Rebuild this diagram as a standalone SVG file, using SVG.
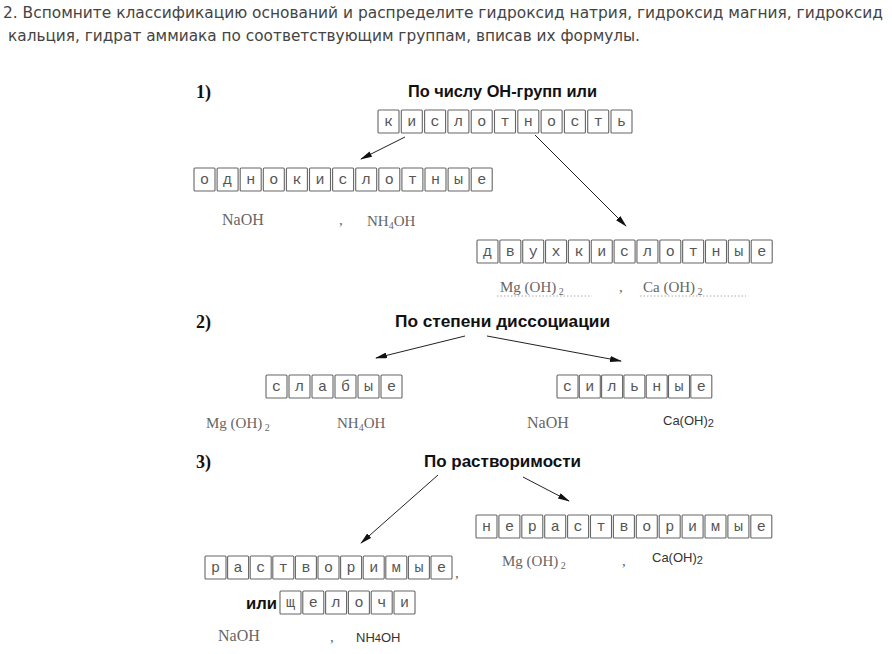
<svg xmlns="http://www.w3.org/2000/svg" width="892" height="654" viewBox="0 0 892 654">
<defs>
<style>
.hd{font-family:"DejaVu Sans","Noto Sans",sans-serif;font-size:15px;fill:#444}
.num{font-family:"Liberation Serif",serif;font-weight:bold;font-size:18px;fill:#111}
.ttl{font-family:"Liberation Sans",sans-serif;font-weight:bold;font-size:16px;fill:#111}
.b{fill:#fff;stroke:#666;stroke-width:1.1}
.l{font-family:"Liberation Mono",monospace;font-size:15px;fill:#555;text-anchor:middle}
.f{font-family:"Liberation Serif",serif;font-size:15px;fill:#666}
.fn{font-family:"Liberation Serif",serif;font-size:16px;fill:#666}
.fs{font-family:"Liberation Sans",sans-serif;font-size:13px;fill:#333}
.c{stroke:#222;stroke-width:1;fill:none}
.dot{stroke:#aaa;stroke-width:1;stroke-dasharray:1.5 2;fill:none}
</style>
<marker id="ah" viewBox="0 0 12 6" refX="11" refY="3" markerWidth="12" markerHeight="6" markerUnits="userSpaceOnUse" orient="auto">
<path d="M0,0 L12,3 L0,6 Z" fill="#111"/>
</marker>
<g id="box"><rect class="b" x="0" y="0" width="21" height="23" rx="1"/></g>
</defs>
<rect width="892" height="654" fill="#fff"/>

<g id="header">
<text class="hd" x="3" y="18" textLength="880" lengthAdjust="spacingAndGlyphs">2. Вспомните классификацию оснований и распределите гидроксид натрия, гидроксид магния, гидроксид</text>
<text class="hd" x="8" y="41" textLength="632" lengthAdjust="spacingAndGlyphs">кальция, гидрат аммиака по соответствующим группам, вписав их формулы.</text>
</g>

<g id="sec1">
<text class="num" x="196" y="98">1)</text>
<text class="ttl" x="408" y="97" textLength="189" lengthAdjust="spacingAndGlyphs">По числу ОН-групп или</text>
</g>

<g id="kislotnost">
<g transform="translate(378,110)">
<use href="#box" x="0"/><text class="l" x="10.5" y="16">к</text>
<use href="#box" x="23.3"/><text class="l" x="33.8" y="16">и</text>
<use href="#box" x="46.6"/><text class="l" x="57.1" y="16">с</text>
<use href="#box" x="69.9"/><text class="l" x="80.4" y="16">л</text>
<use href="#box" x="93.2"/><text class="l" x="103.7" y="16">о</text>
<use href="#box" x="116.5"/><text class="l" x="127" y="16">т</text>
<use href="#box" x="139.8"/><text class="l" x="150.3" y="16">н</text>
<use href="#box" x="163.1"/><text class="l" x="173.6" y="16">о</text>
<use href="#box" x="186.4"/><text class="l" x="196.9" y="16">с</text>
<use href="#box" x="209.7"/><text class="l" x="220.2" y="16">т</text>
<use href="#box" x="233"/><text class="l" x="243.5" y="16">ь</text>
</g>
</g>

<g id="odnokislotnye">
<g transform="translate(194,168)">
<use href="#box" x="0"/><text class="l" x="10.5" y="16">о</text>
<use href="#box" x="23.1"/><text class="l" x="33.6" y="16">д</text>
<use href="#box" x="46.2"/><text class="l" x="56.7" y="16">н</text>
<use href="#box" x="69.3"/><text class="l" x="79.8" y="16">о</text>
<use href="#box" x="92.4"/><text class="l" x="102.9" y="16">к</text>
<use href="#box" x="115.5"/><text class="l" x="126" y="16">и</text>
<use href="#box" x="138.6"/><text class="l" x="149.1" y="16">с</text>
<use href="#box" x="161.7"/><text class="l" x="172.2" y="16">л</text>
<use href="#box" x="184.8"/><text class="l" x="195.3" y="16">о</text>
<use href="#box" x="207.9"/><text class="l" x="218.4" y="16">т</text>
<use href="#box" x="231"/><text class="l" x="241.5" y="16">н</text>
<use href="#box" x="254.1"/><text class="l" x="264.6" y="16">ы</text>
<use href="#box" x="277.2"/><text class="l" x="287.7" y="16">е</text>
</g>
<text class="fn" x="222" y="225">NaOH</text>
<text class="f" x="339" y="225">,</text>
<text class="f" x="367" y="226">NH<tspan font-size="10" dy="3">4</tspan><tspan dy="-3">OH</tspan></text>
</g>

<g id="dvukhkislotnye">
<g transform="translate(477,240)">
<use href="#box" x="0"/><text class="l" x="10.5" y="16">д</text>
<use href="#box" x="22.85"/><text class="l" x="33.35" y="16">в</text>
<use href="#box" x="45.7"/><text class="l" x="56.2" y="16">у</text>
<use href="#box" x="68.55"/><text class="l" x="79.05" y="16">х</text>
<use href="#box" x="91.4"/><text class="l" x="101.9" y="16">к</text>
<use href="#box" x="114.25"/><text class="l" x="124.75" y="16">и</text>
<use href="#box" x="137.1"/><text class="l" x="147.6" y="16">с</text>
<use href="#box" x="159.95"/><text class="l" x="170.45" y="16">л</text>
<use href="#box" x="182.8"/><text class="l" x="193.3" y="16">о</text>
<use href="#box" x="205.65"/><text class="l" x="216.15" y="16">т</text>
<use href="#box" x="228.5"/><text class="l" x="239" y="16">н</text>
<use href="#box" x="251.35"/><text class="l" x="261.85" y="16">ы</text>
<use href="#box" x="274.2"/><text class="l" x="284.7" y="16">е</text>
</g>
<text class="f" x="500" y="292">Mg (OH)<tspan font-size="10" dy="3"> 2</tspan></text>
<text class="f" x="619" y="292">,</text>
<text class="f" x="643" y="292">Ca (OH)<tspan font-size="10" dy="3"> 2</tspan></text>
<line class="dot" x1="497" y1="296" x2="592" y2="296"/>
<line class="dot" x1="640" y1="296" x2="746" y2="296"/>
</g>

<g id="sec2">
<text class="num" x="196" y="328">2)</text>
<text class="ttl" x="395" y="327" textLength="215" lengthAdjust="spacingAndGlyphs">По степени диссоциации</text>
</g>

<g id="slabye">
<g transform="translate(266,375)">
<use href="#box" x="0"/><text class="l" x="10.5" y="16">с</text>
<use href="#box" x="23"/><text class="l" x="33.5" y="16">л</text>
<use href="#box" x="46"/><text class="l" x="56.5" y="16">а</text>
<use href="#box" x="69"/><text class="l" x="79.5" y="16">б</text>
<use href="#box" x="92"/><text class="l" x="102.5" y="16">ы</text>
<use href="#box" x="115"/><text class="l" x="125.5" y="16">е</text>
</g>
<text class="f" x="206" y="428">Mg (OH)<tspan font-size="10" dy="3"> 2</tspan></text>
<text class="f" x="337" y="428">NH<tspan font-size="10" dy="3">4</tspan><tspan dy="-3">OH</tspan></text>
</g>

<g id="silnye">
<g transform="translate(557,375)">
<use href="#box" x="0"/><text class="l" x="10.5" y="16">с</text>
<use href="#box" x="22.3"/><text class="l" x="32.8" y="16">и</text>
<use href="#box" x="44.6"/><text class="l" x="55.1" y="16">л</text>
<use href="#box" x="66.9"/><text class="l" x="77.4" y="16">ь</text>
<use href="#box" x="89.2"/><text class="l" x="99.7" y="16">н</text>
<use href="#box" x="111.5"/><text class="l" x="122" y="16">ы</text>
<use href="#box" x="133.8"/><text class="l" x="144.3" y="16">е</text>
</g>
<text class="fn" x="527" y="428">NaOH</text>
<text class="fs" x="663" y="425">Ca(OH)<tspan font-size="11" dy="2">2</tspan></text>
</g>

<g id="sec3">
<text class="num" x="196" y="468">3)</text>
<text class="ttl" x="424" y="467" textLength="157" lengthAdjust="spacingAndGlyphs">По растворимости</text>
</g>

<g id="nerastvorimye">
<g transform="translate(476,515)">
<use href="#box" x="0"/><text class="l" x="10.5" y="16">н</text>
<use href="#box" x="22.9"/><text class="l" x="33.4" y="16">е</text>
<use href="#box" x="45.8"/><text class="l" x="56.3" y="16">р</text>
<use href="#box" x="68.7"/><text class="l" x="79.2" y="16">а</text>
<use href="#box" x="91.6"/><text class="l" x="102.1" y="16">с</text>
<use href="#box" x="114.5"/><text class="l" x="125" y="16">т</text>
<use href="#box" x="137.4"/><text class="l" x="147.9" y="16">в</text>
<use href="#box" x="160.3"/><text class="l" x="170.8" y="16">о</text>
<use href="#box" x="183.2"/><text class="l" x="193.7" y="16">р</text>
<use href="#box" x="206.1"/><text class="l" x="216.6" y="16">и</text>
<use href="#box" x="229"/><text class="l" x="239.5" y="16">м</text>
<use href="#box" x="251.9"/><text class="l" x="262.4" y="16">ы</text>
<use href="#box" x="274.8"/><text class="l" x="285.3" y="16">е</text>
</g>
<text class="f" x="502" y="566">Mg (OH)<tspan font-size="10" dy="3"> 2</tspan></text>
<text class="f" x="622" y="566">,</text>
<text class="fs" x="652" y="562">Ca(OH)<tspan font-size="11" dy="2">2</tspan></text>
</g>

<g id="rastvorimye">
<g transform="translate(205,556)">
<use href="#box" x="0"/><text class="l" x="10.5" y="16">р</text>
<use href="#box" x="22.6"/><text class="l" x="33.1" y="16">а</text>
<use href="#box" x="45.2"/><text class="l" x="55.7" y="16">с</text>
<use href="#box" x="67.8"/><text class="l" x="78.3" y="16">т</text>
<use href="#box" x="90.4"/><text class="l" x="100.9" y="16">в</text>
<use href="#box" x="113"/><text class="l" x="123.5" y="16">о</text>
<use href="#box" x="135.6"/><text class="l" x="146.1" y="16">р</text>
<use href="#box" x="158.2"/><text class="l" x="168.7" y="16">и</text>
<use href="#box" x="180.8"/><text class="l" x="191.3" y="16">м</text>
<use href="#box" x="203.4"/><text class="l" x="213.9" y="16">ы</text>
<use href="#box" x="226"/><text class="l" x="236.5" y="16">е</text>
</g>
<text class="f" x="455" y="578">,</text>
</g>

<g id="shchelochi">
<text class="ttl" x="246" y="609" font-size="13" textLength="31" lengthAdjust="spacingAndGlyphs">или</text>
<g transform="translate(280,591)">
<use href="#box" x="0"/><text class="l" x="10.5" y="16">щ</text>
<use href="#box" x="22.8"/><text class="l" x="33.3" y="16">е</text>
<use href="#box" x="45.6"/><text class="l" x="56.1" y="16">л</text>
<use href="#box" x="68.4"/><text class="l" x="78.9" y="16">о</text>
<use href="#box" x="91.2"/><text class="l" x="101.7" y="16">ч</text>
<use href="#box" x="114"/><text class="l" x="124.5" y="16">и</text>
</g>
<text class="fn" x="218" y="641">NaOH</text>
<text class="f" x="330" y="642">,</text>
<text class="fs" x="356" y="642">NH<tspan font-size="11">4</tspan>OH</text>
</g>

<g id="connectors">
<line class="c" x1="405" y1="137" x2="361" y2="159" marker-end="url(#ah)"/>
<line class="c" x1="535" y1="135" x2="626" y2="226" marker-end="url(#ah)"/>
<line class="c" x1="465" y1="336" x2="376" y2="358" marker-end="url(#ah)"/>
<line class="c" x1="487" y1="336" x2="621" y2="361" marker-end="url(#ah)"/>
<line class="c" x1="438" y1="475" x2="361" y2="543" marker-end="url(#ah)"/>
<line class="c" x1="523" y1="477" x2="569" y2="501" marker-end="url(#ah)"/>
</g>
</svg>
